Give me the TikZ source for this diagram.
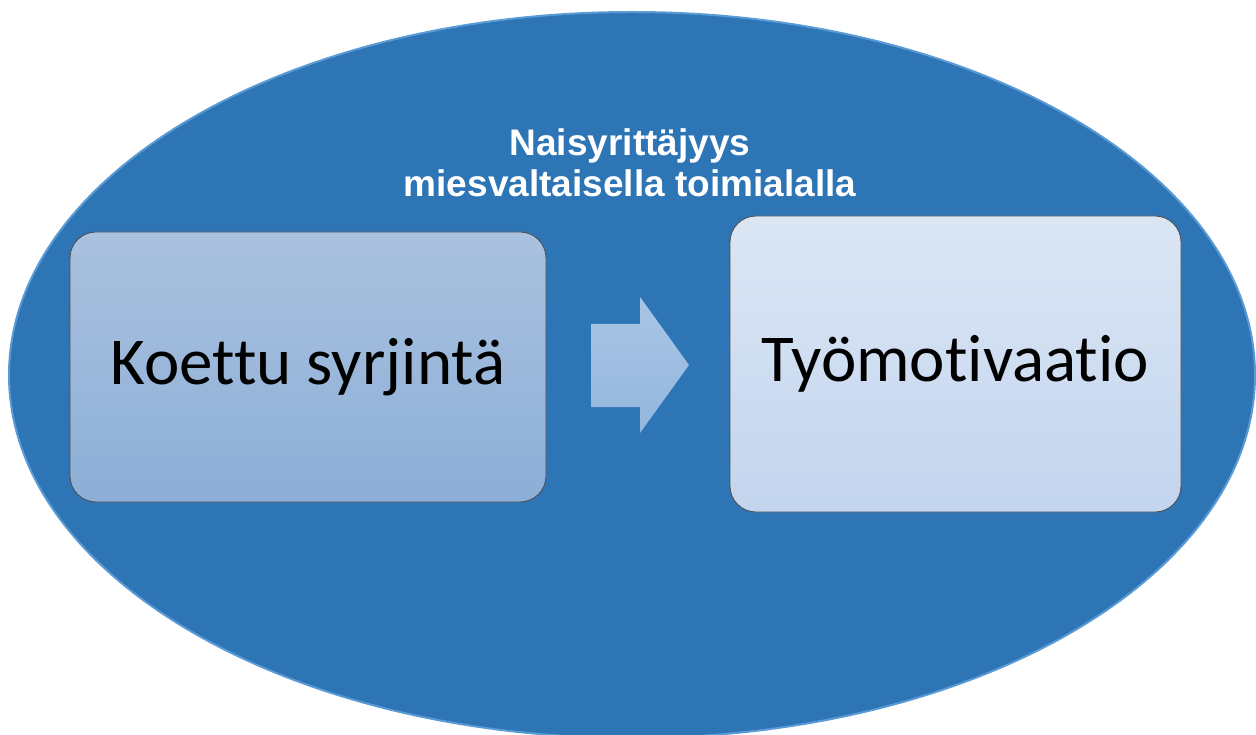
\documentclass[tikz,border=0pt]{standalone}
\usepackage{fontspec}
\setmainfont{Carlito}[Ligatures=NoCommon]
\newfontfamily\titlefont{Liberation Sans}
\definecolor{ovalblue}{HTML}{2E75B6}
\definecolor{ovaledge}{HTML}{5B9BD5}
\definecolor{boxAtop}{HTML}{AAC1DF}
\definecolor{boxAbot}{HTML}{8CAFD7}
\definecolor{boxBtop}{HTML}{DBE6F4}
\definecolor{boxBbot}{HTML}{C3D5EE}
\definecolor{arrtop}{HTML}{A9C5E5}
\definecolor{arrbot}{HTML}{93B6DD}
\begin{document}
\begin{tikzpicture}[x=1pt,y=-1pt]
            \tikzstyle{laatikko}=[draw=black!70,line width=0.8pt,rounded corners=26pt,font=\fontsize{67}{72}\selectfont,text=black]
            \useasboundingbox (0,0) rectangle (1256,735);
            \clip (0,0) rectangle (1256,735);
            \fill[ovalblue,draw=ovaledge,line width=2pt] (632,375) ellipse [x radius=623pt, y radius=363pt];
            \node[white,align=center,font=\titlefont\bfseries\fontsize{37}{41}\selectfont] (otsikko) at (630,163) {Naisyrittäjyys\\miesvaltaisella toimialalla};
            \node[laatikko,top color=boxAtop,bottom color=boxAbot,minimum width=476pt,minimum height=270pt] (syrjinta) at (308,367) {Koettu syrjintä};
            \node[laatikko,top color=boxBtop,bottom color=boxBbot,minimum width=451pt,minimum height=296pt] (motivaatio) at (955.5,364) {Työmotivaatio};
            \shade[top color=arrtop,bottom color=arrbot] (591,324) -- (640,324) -- (640,297) -- (689,365) -- (640,433) -- (640,407) -- (591,407) -- cycle;
        \end{tikzpicture}
\end{document}
